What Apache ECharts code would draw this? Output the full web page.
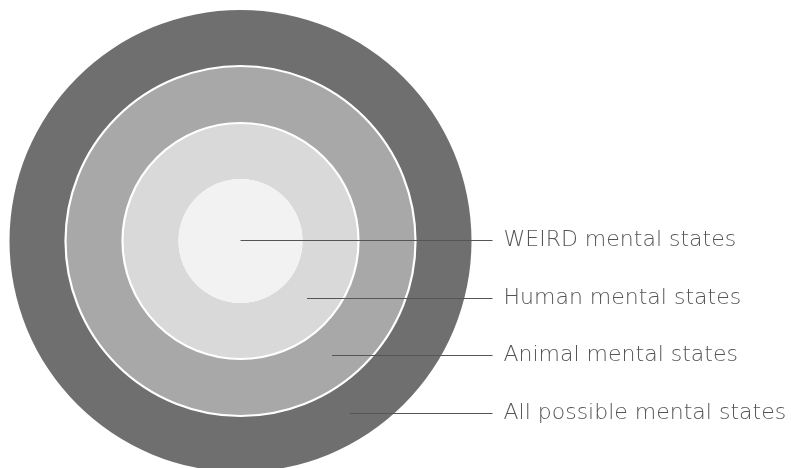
<!DOCTYPE html>
<html>
<head>
<meta charset="utf-8">
<script src="https://cdn.jsdelivr.net/npm/echarts@6/dist/echarts.min.js"></script>
<style>
html,body{margin:0;padding:0;background:#fff;}
#chart{width:791px;height:468px;}
</style>
</head>
<body>
<div id="chart"></div>
<script>
// Circle names (innermost to outermost) and their radii (px-equivalent units)
const categories = ['WEIRD mental states', 'Human mental states', 'Animal mental states', 'All possible mental states'];
const radii = [62, 118, 175, 231];
const fills = ['#f2f2f2', '#d9d9d9', '#a8a8a8', '#6f6f6f'];
const borders = [0, 0, 2.2, 0];
const ringZ = [4, 3, 6, 2];
// Leader lines (relative to circle centre, y upward)
const leaderStartX = [0, 66.5, 91.5, 109.5];
const leaderEndX = [252, 252, 252, 252];
const leaderY = [0.5, -57.5, -114.5, -172.5];

const chart = echarts.init(document.getElementById('chart'));
const cx = 240.5, cy = 241;

const series = [];
// stacked rings, innermost first
for (let i = 0; i < radii.length; i++) {
  series.push({
    type: 'bar',
    name: categories[i],
    coordinateSystem: 'polar',
    stack: 'rings',
    data: [radii[i] - (i > 0 ? radii[i - 1] : 0)],
    barWidth: '100%',
    z: ringZ[i],
    itemStyle: { color: fills[i], borderColor: '#ffffff', borderWidth: borders[i] },
    silent: true
  });
}
for (let i = 0; i < categories.length; i++) {
  series.push({
    type: 'line',
    name: categories[i],
    xAxisIndex: 0, yAxisIndex: 0,
    data: [[leaderStartX[i], leaderY[i]], [leaderEndX[i], leaderY[i]]],
    showSymbol: false,
    symbol: 'none',
    z: 10,
    lineStyle: { color: '#555555', width: 1 },
    endLabel: {
      show: true,
      formatter: categories[i],
      distance: 11,
      color: '#555555',
      fontFamily: 'DejaVu Sans',
      fontWeight: 200,
      fontSize: 22
    },
    silent: true
  });
}

chart.setOption({
  animation: false,
  backgroundColor: '#ffffff',
  polar: { center: [cx, cy], radius: radii[3] },
  angleAxis: { type: 'category', data: ['all'], startAngle: 90, show: false, axisLine:{show:false}, axisTick:{show:false}, axisLabel:{show:false}, splitLine:{show:false} },
  radiusAxis: { type: 'value', min: 0, max: radii[3], show: false, axisLine:{show:false}, axisTick:{show:false}, axisLabel:{show:false}, splitLine:{show:false} },
  grid: { left: 0, top: 0, width: 791, height: 468, containLabel: false },
  xAxis: { type: 'value', min: -cx, max: 791 - cx, show: false },
  yAxis: { type: 'value', min: -(468 - cy), max: cy, show: false },
  series: series
});
</script>
</body>
</html>
